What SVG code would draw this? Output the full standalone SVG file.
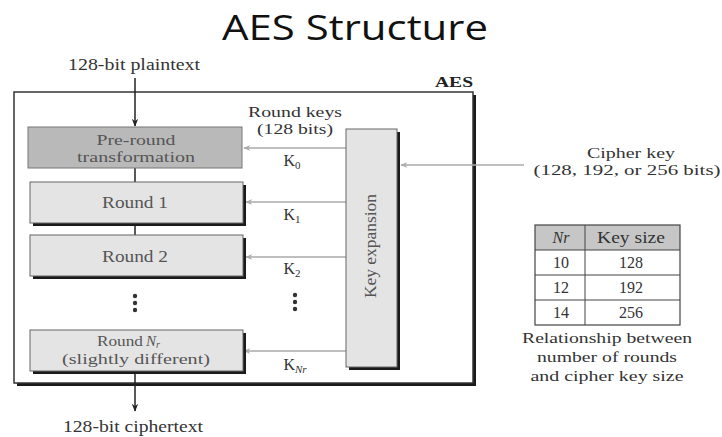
<svg xmlns="http://www.w3.org/2000/svg" width="722" height="437" viewBox="0 0 722 437">
<style>
.t{font-family:"Liberation Serif",serif;font-size:16px;fill:#333;text-anchor:middle}
.b{font-family:"Liberation Serif",serif;font-size:16px;fill:#555;text-anchor:middle}
.s{font-size:15px}
.box{fill:#e4e4e4;stroke:#666;stroke-width:1}
.sh{fill:#1a1a1a}
.key{stroke:#aaa;stroke-width:1.5;fill:none;marker-end:url(#ga)}
.flow{stroke:#222;stroke-width:1.5;fill:none}
</style>
<defs>
<marker id="ga" viewBox="0 0 10 10" refX="9" refY="5" markerWidth="7" markerHeight="7" orient="auto" markerUnits="userSpaceOnUse"><path d="M0,1 L10,5 L0,9 L3,5 z" fill="#aaa"/></marker>
<marker id="ba" viewBox="0 0 10 10" refX="9" refY="5" markerWidth="8" markerHeight="8" orient="auto" markerUnits="userSpaceOnUse"><path d="M0,1 L10,5 L0,9 L3,5 z" fill="#222"/></marker>
</defs>
<rect width="722" height="437" fill="#fff"/>
<text x="355" y="40" font-family="'Open Sans',sans-serif" font-size="35" fill="#111" text-anchor="middle" textLength="266" lengthAdjust="spacingAndGlyphs">AES Structure</text>
<g id="aes">
<rect x="17" y="95" width="459" height="291" class="sh"/>
<rect x="14" y="92" width="459" height="291" fill="#fff" stroke="#333" stroke-width="1.5"/>
<text x="454" y="87" font-family="'Liberation Serif',serif" font-size="15" font-weight="bold" fill="#222" text-anchor="middle" textLength="38" lengthAdjust="spacingAndGlyphs">AES</text>
</g>
<g id="connectors">
<line x1="135" y1="78" x2="135" y2="126" class="flow" marker-end="url(#ba)"/>
<line x1="135" y1="168" x2="135" y2="182" class="flow"/>
<line x1="135" y1="223" x2="135" y2="235" class="flow"/>
<line x1="135" y1="372" x2="135" y2="411" class="flow" marker-end="url(#ba)"/>
<line x1="346" y1="148" x2="244" y2="148" class="key"/>
<line x1="346" y1="202" x2="246" y2="202" class="key"/>
<line x1="346" y1="257" x2="246" y2="257" class="key"/>
<line x1="346" y1="351" x2="244" y2="351" class="key"/>
<line x1="524" y1="165" x2="401" y2="165" class="key"/>
</g>
<g id="labels">
<text x="134" y="70" class="t" textLength="132" lengthAdjust="spacingAndGlyphs">128-bit plaintext</text>
<text x="133" y="432" class="t" textLength="140" lengthAdjust="spacingAndGlyphs">128-bit ciphertext</text>
<text x="295" y="117" class="t s" textLength="94" lengthAdjust="spacingAndGlyphs">Round keys</text>
<text x="295" y="134" class="t s" textLength="76" lengthAdjust="spacingAndGlyphs">(128 bits)</text>
<text x="292" y="166" class="t">K<tspan font-size="11" dy="3">0</tspan></text>
<text x="292" y="220" class="t">K<tspan font-size="11" dy="3">1</tspan></text>
<text x="292" y="274" class="t">K<tspan font-size="11" dy="3">2</tspan></text>
<text x="295" y="370" class="t">K<tspan font-size="11" dy="3" font-style="italic">Nr</tspan></text>
<text x="631" y="158" class="t s" textLength="88" lengthAdjust="spacingAndGlyphs">Cipher key</text>
<text x="627" y="175" class="t s" textLength="187" lengthAdjust="spacingAndGlyphs">(128, 192, or 256 bits)</text>
<g fill="#333"><circle cx="135" cy="296" r="2.2"/><circle cx="135" cy="303" r="2.2"/><circle cx="135" cy="310" r="2.2"/>
<circle cx="295" cy="295" r="2.2"/><circle cx="295" cy="302" r="2.2"/><circle cx="295" cy="309" r="2.2"/></g>
</g>
<g id="preround">
<rect x="28" y="127" width="214" height="41" fill="#b9b9b9" stroke="#777"/>
<text x="136" y="145" class="b s" textLength="79" lengthAdjust="spacingAndGlyphs">Pre-round</text>
<text x="136" y="162" class="b s" textLength="118" lengthAdjust="spacingAndGlyphs">transformation</text>
</g>
<g id="round1">
<rect x="33" y="185" width="213" height="41" class="sh"/>
<rect x="30" y="182" width="213" height="41" class="box"/>
<text x="135" y="208" class="b" textLength="66" lengthAdjust="spacingAndGlyphs">Round 1</text>
</g>
<g id="round2">
<rect x="33" y="238" width="213" height="41" class="sh"/>
<rect x="30" y="235" width="213" height="41" class="box"/>
<text x="135" y="262" class="b" textLength="66" lengthAdjust="spacingAndGlyphs">Round 2</text>
</g>
<g id="roundnr">
<rect x="33" y="333" width="213" height="41" class="sh"/>
<rect x="30" y="330" width="213" height="41" class="box"/>
<text x="120" y="346" class="b s" textLength="46" lengthAdjust="spacingAndGlyphs">Round</text>
<text x="146" y="346" class="b s" style="text-anchor:start;font-style:italic">N<tspan font-size="10" dy="2">r</tspan></text>
<text x="136" y="364" class="b s" textLength="148" lengthAdjust="spacingAndGlyphs">(slightly different)</text>
</g>
<g id="keyexp">
<rect x="349" y="132" width="51" height="238" class="sh"/>
<rect x="346" y="129" width="51" height="238" class="box"/>
<text x="0" y="0" class="b" transform="translate(376,246) rotate(-90)" textLength="104" lengthAdjust="spacingAndGlyphs">Key expansion</text>
</g>
<g id="table">
<rect x="535" y="225" width="145" height="25" fill="#c6c6c6"/>
<rect x="535" y="225" width="145" height="100" fill="none" stroke="#444" stroke-width="1.2"/>
<line x1="535" y1="250" x2="680" y2="250" stroke="#444"/>
<line x1="535" y1="275" x2="680" y2="275" stroke="#444"/>
<line x1="535" y1="300" x2="680" y2="300" stroke="#444"/>
<line x1="585" y1="225" x2="585" y2="325" stroke="#444"/>
<text x="561" y="243" class="t" font-style="italic">Nr</text>
<text x="631" y="243" class="t" textLength="68" lengthAdjust="spacingAndGlyphs">Key size</text>
<text x="561" y="268" class="t">10</text><text x="631" y="268" class="t">128</text>
<text x="561" y="293" class="t">12</text><text x="631" y="293" class="t">192</text>
<text x="561" y="318" class="t">14</text><text x="631" y="318" class="t">256</text>
<text x="607" y="343" class="t s" textLength="170" lengthAdjust="spacingAndGlyphs">Relationship between</text>
<text x="607" y="362" class="t s" textLength="140" lengthAdjust="spacingAndGlyphs">number of rounds</text>
<text x="607" y="381" class="t s" textLength="153" lengthAdjust="spacingAndGlyphs">and cipher key size</text>
</g>
</svg>
